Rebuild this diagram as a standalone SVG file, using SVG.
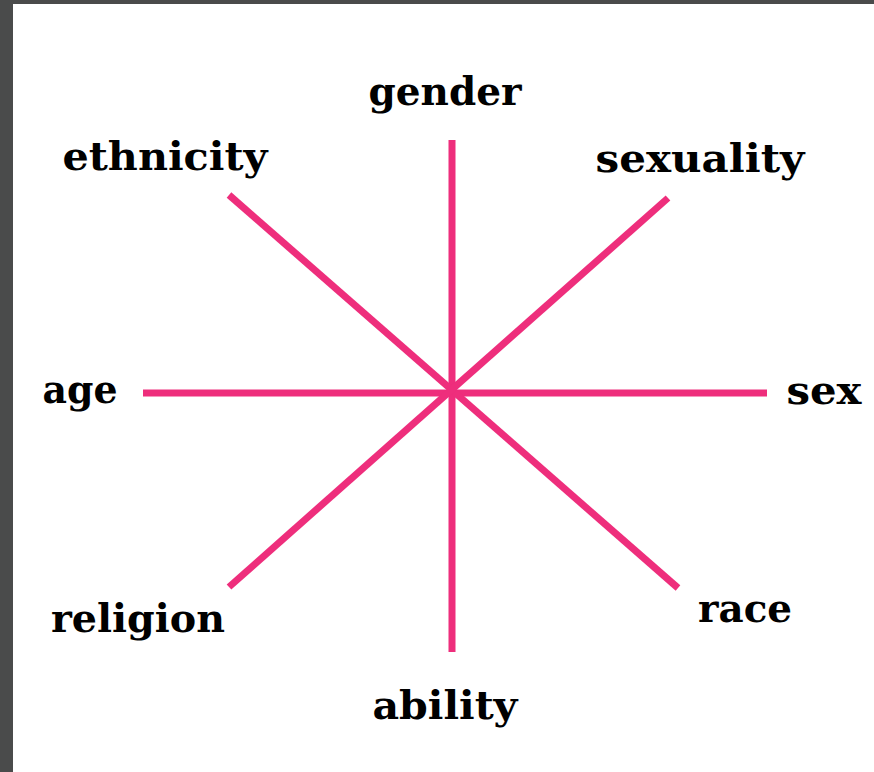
<svg xmlns="http://www.w3.org/2000/svg" width="874" height="772" viewBox="0 0 874 772">
<style>
.lbl{font-family:"DejaVu Serif","Liberation Serif",serif;font-weight:bold;font-size:39px;fill:#000;text-anchor:middle}
.ln{stroke:#ee2e7c;stroke-width:7;stroke-linecap:butt;fill:none}
</style>
<rect x="0" y="0" width="874" height="772" fill="#4a4b4b"/>
<rect x="13" y="4" width="861" height="768" fill="#ffffff"/>
<g id="connectors">
<line class="ln" x1="452" y1="140" x2="452" y2="652"/>
<line class="ln" x1="143" y1="393" x2="767" y2="393"/>
<line class="ln" x1="229" y1="195" x2="678" y2="588"/>
<line class="ln" x1="668" y1="198" x2="229" y2="587"/>
</g>
<g id="gender"><text class="lbl" x="445" y="105" textLength="153" lengthAdjust="spacingAndGlyphs">gender</text></g>
<g id="ethnicity"><text class="lbl" x="165" y="170" textLength="205" lengthAdjust="spacingAndGlyphs">ethnicity</text></g>
<g id="sexuality"><text class="lbl" x="700" y="172" textLength="209" lengthAdjust="spacingAndGlyphs">sexuality</text></g>
<g id="age"><text class="lbl" x="80" y="403" textLength="75" lengthAdjust="spacingAndGlyphs">age</text></g>
<g id="sex"><text class="lbl" x="824" y="404" textLength="75" lengthAdjust="spacingAndGlyphs">sex</text></g>
<g id="religion"><text class="lbl" x="138" y="632" textLength="174" lengthAdjust="spacingAndGlyphs">religion</text></g>
<g id="race"><text class="lbl" x="745" y="622" textLength="94" lengthAdjust="spacingAndGlyphs">race</text></g>
<g id="ability"><text class="lbl" x="445" y="719" textLength="145" lengthAdjust="spacingAndGlyphs">ability</text></g>
</svg>
